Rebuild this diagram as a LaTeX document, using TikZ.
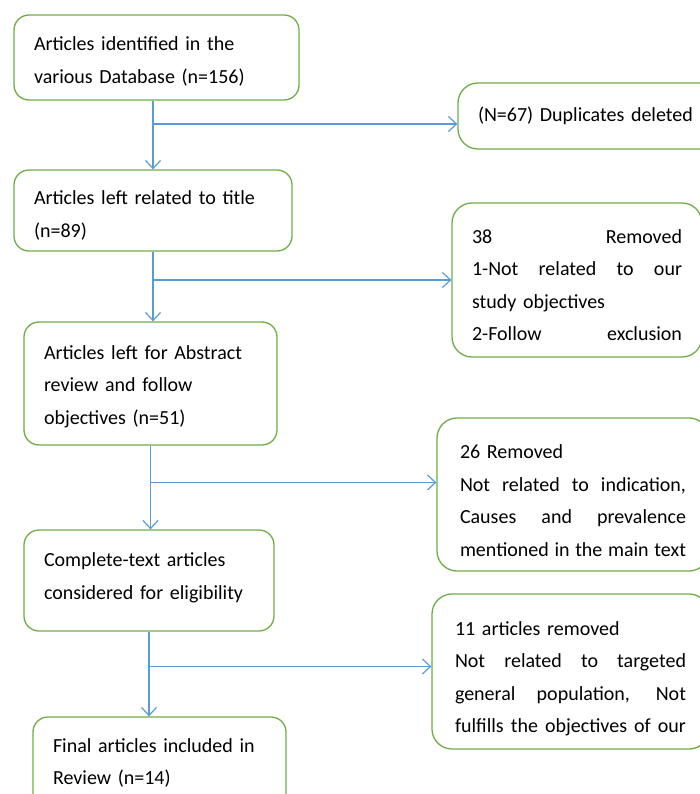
\documentclass[tikz,border=0pt]{standalone}
\usepackage{fontspec}
\setmainfont{Carlito}[WordSpace=0.7]
\usetikzlibrary{arrows.meta,calc}
\definecolor{boxgreen}{RGB}{112,173,71}
\definecolor{flowblue}{RGB}{91,155,213}
\newcommand{\jline}[1]{\makebox[\hsize][s]{\spaceskip=0pt\relax #1}}
\tikzset{
    x=1pt,
    y=-1pt,
    box/.style = {
        draw=boxgreen,
        shape=rectangle,
        rounded corners=15pt,
        line width=1.3pt,
        align=left,
        inner xsep=20pt,
        inner ysep=0pt,
        font=\fontsize{20}{32.5}\selectfont
    },
    sidebox/.style = {
        box,
        rounded corners=20pt
    },
    flow/.style = {
        draw=flowblue,
        line width=1.2pt
    },
    >={Straight Barb[length=8pt,width=15pt]},
}

\begin{document}
\begin{tikzpicture}
                \clip (0,0) rectangle (700,794);

                % main column
                \node[box, text width=245pt, minimum height=85pt, text height=22pt] (ident) at (156.5,57.5) {Articles identified in the\\various Database (n=156)};
                \node[box, text width=238pt, minimum height=81pt, text height=24pt] (title) at (153,210.5) {Articles left related to title\\(n=89)};
                \node[box, text width=213pt, minimum height=123pt, text height=20pt] (abstr) at (150.5,383.5) {Articles left for Abstract\\review and follow\\objectives (n=51)};
                \node[box, text width=210pt, minimum height=101pt, text height=8pt] (full) at (149,580.5) {Complete-text articles\\considered for eligibility};
                \node[box, text width=213pt, minimum height=96pt, text height=10pt] (final) at (159.5,765) {Final articles included in\\Review (n=14)};

                % removed records
                \node[sidebox, text width=230pt, minimum height=66pt] (dup) at (593,116) {(N=67) Duplicates deleted};
                \node[sidebox, text width=210pt, minimum height=154pt, text height=24pt] (rem38) at (577,280) {\jline{38 Removed}\\\jline{1-Not related to our}\\study objectives\\\jline{2-Follow exclusion}};
                \node[sidebox, inner xsep=23pt, text width=226pt, minimum height=153pt, text height=26pt] (rem26) at (573,494.5) {26 Removed\\\jline{Not related to indication,}\\\jline{Causes and prevalence}\\\jline{mentioned in the main text}};
                \node[sidebox, inner xsep=23pt, text width=231pt, minimum height=155pt, text height=28pt] (rem11) at (570.5,671.5) {11 articles removed\\\jline{Not related to targeted}\\\jline{general population, Not}\\\jline{fulfills the objectives of our}};

                \coordinate (fork1) at (title.north |- 0,124);
                \coordinate (fork2) at (title.south |- 0,280);
                \coordinate (fork3) at (abstr.south |- 0,482.5);
                \coordinate (fork4) at (full.south |- 0,666.5);

                \path[flow, ->] (ident.south -| title.north) -- (title.north);
                \path[flow, ->] (title.south) -- (title.south |- abstr.north);
                \path[flow, ->] (abstr.south) -- (abstr.south |- full.north);
                \path[flow, ->] (full.south) -- (full.south |- final.north);

                \path[flow, ->] (fork1) -- (fork1 -| dup.west);
                \path[flow, ->] (fork2) -- (fork2 -| rem38.west);
                \path[flow, ->] (fork3) -- (fork3 -| rem26.west);
                \path[flow, ->] (fork4) -- (fork4 -| rem11.west);
            \end{tikzpicture}
\end{document}
